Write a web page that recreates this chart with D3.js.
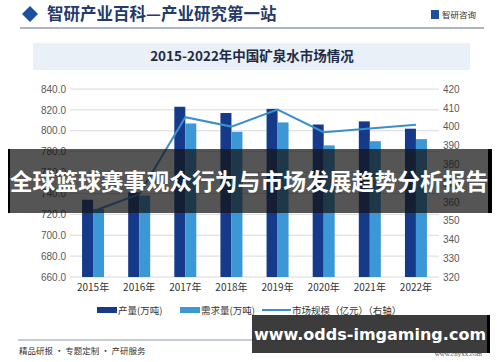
<!DOCTYPE html>
<html>
<head>
<meta charset="utf-8">
<script src="https://cdn.jsdelivr.net/npm/d3@7"></script>
<style>
  body { margin: 0; background: #fff; }
  svg { display: block; }
</style>
</head>
<body>
<svg class="chart" width="500" height="362"></svg>
<script>
var years = ["2015年", "2016年", "2017年", "2018年", "2019年", "2020年", "2021年", "2022年"];
var output = [734, 741, 823, 817, 821, 806, 809, 802];
var demand = [725, 738, 807, 799, 808, 786, 790, 792];
var market = [355, 364, 405, 400, 409, 397, 399, 401];
var leftTicks = [660, 680, 700, 720, 740, 760, 780, 800, 820, 840];
var rightTicks = [320, 330, 340, 350, 360, 370, 380, 390, 400, 410, 420];
var legendNames = ["产量(万吨)", "需求量(万吨)", "市场规模（亿元）（右轴）"];

window.onload = function(){

    var svg = d3.select(".chart");
    var cjk = "'Noto Sans CJK SC', sans-serif";
    var num = "'Liberation Sans', Arial, sans-serif";

    // header
    svg.append('path')
            .attr('d', 'M22,14 L30,6 L38,14 L30,22 Z')
            .attr('fill', '#1d4fa0');
    svg.append('text')
            .attr('x', 47)
            .attr('y', 20)
            .text('智研产业百科—产业研究第一站')
            .attr('font-family', cjk)
            .attr('font-weight', 'bold')
            .attr('font-size', '16.5px')
            .attr('fill', '#243a6b');
    svg.append('rect')
            .attr('x', 431).attr('y', 10).attr('width', 8).attr('height', 9)
            .attr('fill', '#1d4fa0');
    svg.append('text')
            .attr('x', 442)
            .attr('y', 18)
            .text('智研咨询')
            .attr('font-family', cjk)
            .attr('font-size', '8.5px')
            .attr('fill', '#333');
    svg.append('line')
            .attr('x1', 20).attr('x2', 484)
            .attr('y1', 28).attr('y2', 28)
            .attr('stroke', '#8d9bb0')
            .attr('stroke-width', 1.5);

    // title box
    svg.append('rect')
            .attr('x', 33).attr('y', 43)
            .attr('width', 437).attr('height', 27)
            .attr('fill', '#e9f0f8');
    svg.append('text')
            .attr('x', 252)
            .attr('y', 61)
            .attr('text-anchor', 'middle')
            .text('2015-2022年中国矿泉水市场情况')
            .attr('font-family', cjk)
            .attr('font-weight', 'bold')
            .attr('font-size', '13.5px')
            .attr('fill', '#1f2a44');

    // scales
    var x = d3.scaleBand().domain(years).range([70, 439]);
    var yl = d3.scaleLinear().domain([660, 840]).range([277, 89]);
    var yr = d3.scaleLinear().domain([320, 420]).range([277, 89]);
    var bw = 11;

    svg.append('g')
            .selectAll('line')
            .data(leftTicks)
            .join('line')
            .attr('x1', 70).attr('x2', 439)
            .attr('y1', function(d){ return yl(d); })
            .attr('y2', function(d){ return yl(d); })
            .attr('stroke', '#d9d9d9')
            .attr('stroke-width', 1);

    var left = svg.append('g')
            .attr('transform', 'translate(66,0)')
            .call(d3.axisLeft(yl).tickValues(leftTicks).tickSize(0).tickPadding(0)
                    .tickFormat(function(d){ return d.toFixed(1); }));
    var right = svg.append('g')
            .attr('transform', 'translate(443,0)')
            .call(d3.axisRight(yr).tickValues(rightTicks).tickSize(0).tickPadding(0));
    var bottom = svg.append('g')
            .attr('transform', 'translate(0,284)')
            .call(d3.axisBottom(x).tickSize(0).tickPadding(0));
    [left, right, bottom].forEach(function(g){
        g.select('.domain').remove();
        g.selectAll('text')
                .attr('font-family', num)
                .attr('font-size', '10px')
                .attr('fill', '#595959');
    });
    bottom.selectAll('text').attr('fill', '#333').attr('font-family', cjk).attr('dy', '0.71em');

    // bars
    svg.append('g')
            .selectAll('rect')
            .data(output)
            .join('rect')
            .attr('x', function(d, i){ return x(years[i]) + x.bandwidth() / 2 - bw; })
            .attr('y', function(d){ return yl(d); })
            .attr('width', bw)
            .attr('height', function(d){ return yl(660) - yl(d); })
            .attr('fill', '#163a8a');
    svg.append('g')
            .selectAll('rect')
            .data(demand)
            .join('rect')
            .attr('x', function(d, i){ return x(years[i]) + x.bandwidth() / 2; })
            .attr('y', function(d){ return yl(d); })
            .attr('width', bw)
            .attr('height', function(d){ return yl(660) - yl(d); })
            .attr('fill', '#3b97d6');

    // line
    var line = d3.line()
            .x(function(d, i){ return x(years[i]) + x.bandwidth() / 2; })
            .y(function(d){ return yr(d); });
    svg.append('path')
            .datum(market)
            .attr('d', line)
            .attr('fill', 'none')
            .attr('stroke', '#3a8fcc')
            .attr('stroke-width', 2);

    // legend
    var lg = svg.append('g').attr('font-family', cjk).attr('font-size', '9.5px').attr('fill', '#333');
    lg.append('rect').attr('x', 97).attr('y', 307).attr('width', 20).attr('height', 6).attr('fill', '#163a8a');
    lg.append('text').attr('x', 118).attr('y', 314).text(legendNames[0]);
    lg.append('rect').attr('x', 180).attr('y', 307).attr('width', 20).attr('height', 6).attr('fill', '#3b97d6');
    lg.append('text').attr('x', 201).attr('y', 314).text(legendNames[1]);
    lg.append('line').attr('x1', 262).attr('x2', 291).attr('y1', 310).attr('y2', 310)
            .attr('stroke', '#3a8fcc').attr('stroke-width', 2);
    lg.append('text').attr('x', 292).attr('y', 314).text(legendNames[2]);

    // footer
    svg.append('line')
            .attr('x1', 18).attr('x2', 482)
            .attr('y1', 340).attr('y2', 340)
            .attr('stroke', '#8d9bb0')
            .attr('stroke-width', 1);
    svg.append('text')
            .attr('x', 19)
            .attr('y', 354)
            .text('精品研报 · 专题定制 · 产研服务')
            .attr('font-family', cjk)
            .attr('font-size', '8.5px')
            .attr('fill', '#333');
    svg.append('text')
            .attr('x', 482)
            .attr('y', 356)
            .attr('text-anchor', 'end')
            .text('www.chyxx.com')
            .attr('font-family', 'serif')
            .attr('font-size', '7px')
            .attr('fill', '#555');

    // overlay banners
    svg.append('rect')
            .attr('x', 8).attr('y', 149)
            .attr('width', 484).attr('height', 64)
            .attr('fill', 'rgba(20,20,20,0.72)');
    svg.append('rect').attr('x', 8).attr('y', 149).attr('width', 2).attr('height', 64).attr('fill', '#000');
    svg.append('rect').attr('x', 488).attr('y', 149).attr('width', 4).attr('height', 64).attr('fill', '#000');
    svg.append('text')
            .attr('x', 249)
            .attr('y', 190)
            .attr('text-anchor', 'middle')
            .text('全球篮球赛事观众行为与市场发展趋势分析报告')
            .attr('font-family', cjk)
            .attr('font-weight', 'bold')
            .attr('font-size', '22.8px')
            .attr('fill', '#fff');

    svg.append('rect')
            .attr('x', 252).attr('y', 315)
            .attr('width', 238).attr('height', 38)
            .attr('fill', 'rgba(45,45,45,0.93)');
    svg.append('rect').attr('x', 487).attr('y', 315).attr('width', 3).attr('height', 38).attr('fill', '#000');
    svg.append('text')
            .attr('x', 370)
            .attr('y', 340)
            .attr('text-anchor', 'middle')
            .text('www.odds-imgaming.com')
            .attr('font-family', "'DejaVu Sans', sans-serif")
            .attr('font-weight', 'bold')
            .attr('font-size', '16px')
            .attr('fill', '#fff');
}
</script>
</body>
</html>
